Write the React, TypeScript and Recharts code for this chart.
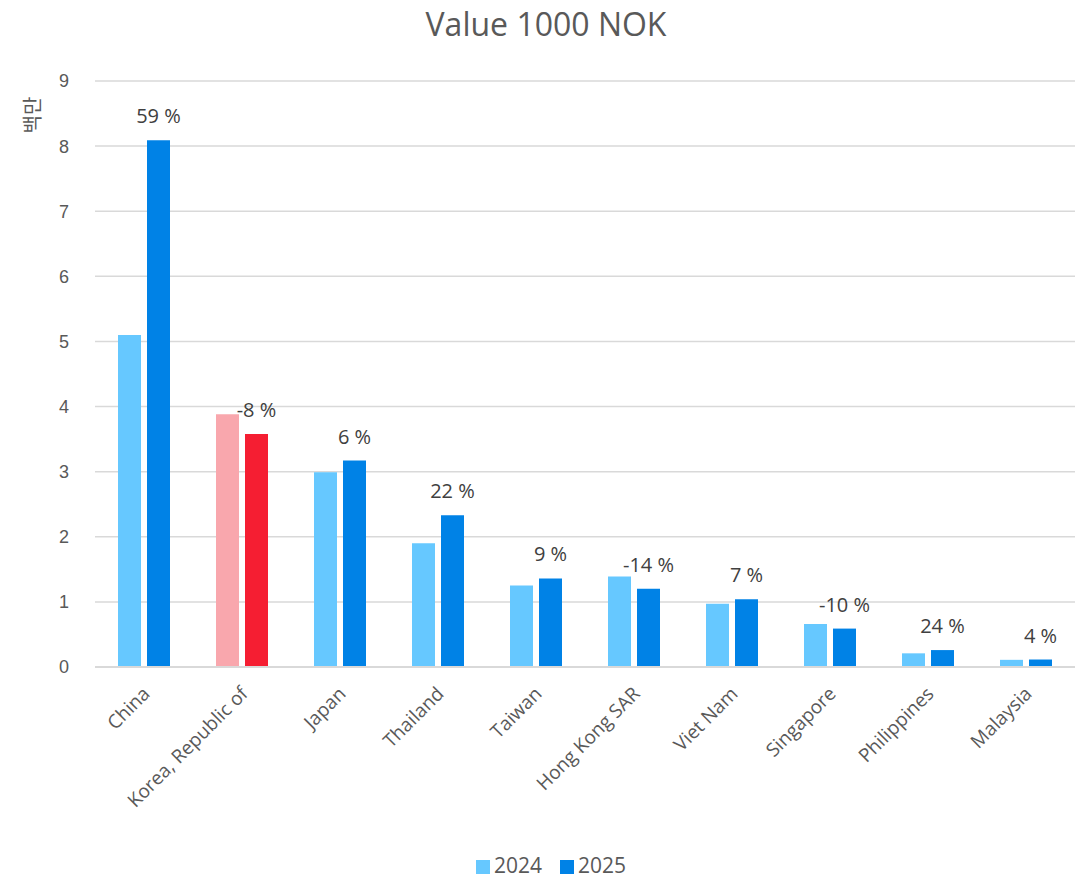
import React from 'react';
import { BarChart, Bar, XAxis, YAxis, CartesianGrid, Legend, LabelList, Cell } from 'recharts';

const countries = ['China', 'Korea, Republic of', 'Japan', 'Thailand', 'Taiwan', 'Hong Kong SAR', 'Viet Nam', 'Singapore', 'Philippines', 'Malaysia'];
const values2024 = [5.1, 3.88, 2.99, 1.9, 1.25, 1.39, 0.97, 0.66, 0.21, 0.11];
const values2025 = [8.09, 3.58, 3.17, 2.33, 1.36, 1.2, 1.04, 0.59, 0.26, 0.115];
const changeLabels = ['59 %', '-8 %', '6 %', '22 %', '9 %', '-14 %', '7 %', '-10 %', '24 %', '4 %'];
const yTicks = [0, 1, 2, 3, 4, 5, 6, 7, 8, 9];
const highlight = 'Korea, Republic of';

const data = countries.map((c, i) => ({
  name: c,
  y2024: values2024[i],
  y2025: values2025[i],
  change: changeLabels[i],
}));

const FONT = '"Open Sans", "Noto Sans", sans-serif';

const CountryTick = (props: any) => {
  const { x, y, payload } = props;
  const ax = x + 7;
  const ay = y + 20;
  return (
    <text
      x={ax}
      y={ay}
      transform={`rotate(-45, ${ax}, ${ay})`}
      textAnchor="end"
      fill="#595959"
      fontSize={19}
      fontFamily={FONT}
    >
      {payload.value}
    </text>
  );
};

const ChangeLabel = (props: any) => {
  const { x, y, width, index } = props;
  return (
    <text
      x={x + width / 2}
      y={y - 17}
      textAnchor="middle"
      fill="#404040"
      fontSize={20}
      fontFamily={FONT}
    >
      {changeLabels[index]}
    </text>
  );
};

export default function App() {
  return (
    <div style={{ position: 'absolute', left: 0, top: 0, width: 1092, height: 877, background: '#fff' }}>
      <div style={{ position: 'absolute', top: 2, left: 0, width: 1092, textAlign: 'center', fontFamily: FONT, fontSize: 32, color: '#595959' }}>
        Value 1000 NOK
      </div>
      <div style={{ position: 'absolute', left: 12, top: 101, width: 40, height: 28, textAlign: 'center', transform: 'rotate(-90deg)', fontFamily: '"Noto Sans CJK KR", sans-serif', fontSize: 20, color: '#595959', lineHeight: '28px' }}>
        백만
      </div>
      <BarChart
        width={1092}
        height={877}
        data={data}
        margin={{ top: 81, right: 17, left: 45, bottom: 0 }}
        barGap={6}
        barSize={23}
      >
        <CartesianGrid vertical={false} stroke="#D9D9D9" strokeWidth={1.5} />
        <XAxis
          dataKey="name"
          interval={0}
          tick={<CountryTick />}
          tickLine={false}
          axisLine={{ stroke: '#D9D9D9', strokeWidth: 2 }}
          height={180}
        />
        <YAxis
          domain={[0, 9]}
          ticks={yTicks}
          width={50}
          axisLine={false}
          tickLine={false}
          tick={{ fill: '#595959', fontSize: 18, fontFamily: '"Liberation Sans", Arial, sans-serif' }}
          tickMargin={20}
        />
        <Legend
          verticalAlign="bottom"
          height={30}
          iconType="square"
          iconSize={14}
          wrapperStyle={{ fontFamily: FONT, fontSize: 21, bottom: -4 }}
          formatter={(value: string) => <span style={{ color: '#595959', marginRight: 8 }}>{value}</span>}
        />
        <Bar dataKey="y2024" name="2024" fill="#66C8FF" isAnimationActive={false}>
          {data.map((d) => (
            <Cell key={d.name} fill={d.name === highlight ? '#F9A7AD' : '#66C8FF'} />
          ))}
        </Bar>
        <Bar dataKey="y2025" name="2025" fill="#0082E6" isAnimationActive={false}>
          {data.map((d) => (
            <Cell key={d.name} fill={d.name === highlight ? '#F51E32' : '#0082E6'} />
          ))}
          <LabelList dataKey="change" content={<ChangeLabel />} />
        </Bar>
      </BarChart>
    </div>
  );
}
